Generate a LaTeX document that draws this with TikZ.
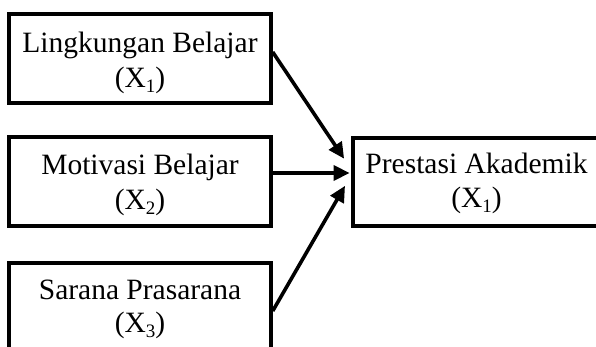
\documentclass[tikz,border=0pt]{standalone}
\usepackage{fontspec}
\setmainfont{Liberation Serif}
\usetikzlibrary{arrows.meta}
\newcommand\subidx[1]{\raisebox{-0.14em}{\fontsize{19}{19}\selectfont #1}}
\tikzset{
  box/.style={draw, line width=3.4pt, rectangle, inner sep=0pt},
  txt/.style={anchor=base, inner sep=0pt, font=\fontsize{29.5}{35}\selectfont},
  conn/.style={line width=3.6pt, -{Triangle[length=16pt, width=15pt]}}
}
\begin{document}
\begin{tikzpicture}[x=1pt, y=1pt]
  \clip (0,0) rectangle (596,347);
  \fill[white] (0,0) rectangle (596,347);

  % independent variables
  \node[box, minimum width=262pt, minimum height=89pt] (b1) at (140,288.5) {};
  \node[box, minimum width=262pt, minimum height=89pt] (b2) at (140,165.5) {};
  \node[box, minimum width=262pt, minimum height=89pt] (b3) at (140,39.5) {};
  % dependent variable
  \node[box, minimum width=247pt, minimum height=88pt] (r) at (476.5,165) {};

  \node[txt] (t1a) at (140,294) {Lingkungan Belajar};
  \node[txt] (t1b) at (140,259) {(X\subidx{1})};
  \node[txt] (t2a) at (140,172.5) {Motivasi Belajar};
  \node[txt] (t2b) at (140,137) {(X\subidx{2})};
  \node[txt] (t3a) at (140,47) {Sarana Prasarana};
  \node[txt] (t3b) at (140,14) {(X\subidx{3})};
  \node[txt] (ra) at (476.5,173.7) {Prestasi Akademik};
  \node[txt] (rb) at (476.5,139) {(X\subidx{1})};

  % connectors converge on the left side of the result box
  \coordinate (hub) at (353,175);
  \coordinate (s1) at ([yshift=6.5pt]b1.east);
  \coordinate (s3) at ([yshift=-3.5pt]b3.east);
  \draw[conn, shorten >=16pt] (s1) -- (hub);
  \draw[conn] (b2.east |- 0,174) -- ([xshift=-1.7pt]r.west |- 0,174);
  \draw[conn, shorten >=16pt] (s3) -- (hub);
\end{tikzpicture}
\end{document}
